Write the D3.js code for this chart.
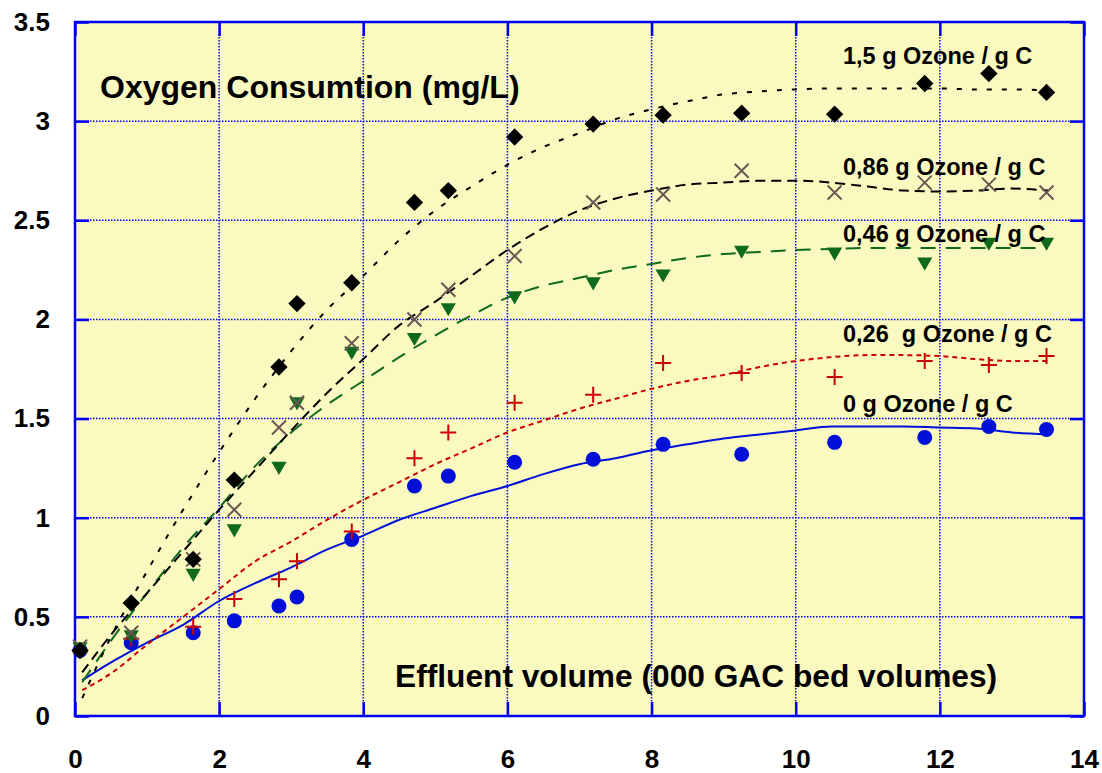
<!DOCTYPE html>
<html>
<head>
<meta charset="utf-8">
<script src="https://cdn.jsdelivr.net/npm/d3@7"></script>
<style>
  body { margin: 0; background: #fff; }
  text { font-family: "Liberation Sans", Arial, sans-serif; font-weight: bold; }
</style>
</head>
<body>
<script>
// measured points, x in thousands of GAC bed volumes
var volumes = [0.07, 0.78, 1.64, 2.21, 2.83, 3.08, 3.84, 4.71, 5.18, 6.1, 7.19, 8.16, 9.25, 10.54, 11.79, 12.68, 13.48];
var ozone0   = [0.33, 0.37, 0.42, 0.48, 0.555, 0.60, 0.89, 1.16, 1.21, 1.28, 1.295, 1.37, 1.32, 1.38, 1.405, 1.46, 1.445];
var ozone026 = [0.33, 0.39, 0.45, 0.59, 0.69, 0.78, 0.93, 1.30, 1.43, 1.58, 1.62, 1.78, 1.73, 1.71, 1.79, 1.77, 1.815];
var ozone046 = [0.35, 0.41, 0.72, 0.945, 1.26, 1.585, 1.84, 1.91, 2.06, 2.12, 2.19, 2.23, 2.35, 2.34, 2.29, 2.39, 2.39];
var ozone086 = [0.35, 0.42, 0.79, 1.04, 1.455, 1.58, 1.88, 2.00, 2.15, 2.32, 2.59, 2.63, 2.75, 2.64, 2.69, 2.68, 2.64];
var ozone15  = [0.33, 0.57, 0.79, 1.19, 1.76, 2.08, 2.185, 2.59, 2.65, 2.92, 2.985, 3.03, 3.04, 3.035, 3.19, 3.24, 3.145];

// fitted curves
var fitX = [0.1, 0.5, 1, 1.5, 2, 2.5, 3, 3.5, 4, 4.5, 5, 5.5, 6, 6.5, 7, 7.5, 8, 8.5, 9, 9.5, 10, 10.5, 11, 11.5, 12, 12.5, 13, 13.5];
var fit0   = [0.18, 0.27, 0.37, 0.46, 0.58, 0.67, 0.75, 0.84, 0.91, 0.99, 1.05, 1.11, 1.16, 1.22, 1.27, 1.30, 1.34, 1.37, 1.40, 1.42, 1.44, 1.46, 1.46, 1.46, 1.455, 1.45, 1.43, 1.42];
var fit026 = [0.13, 0.215, 0.36, 0.50, 0.64, 0.78, 0.88, 0.99, 1.09, 1.18, 1.27, 1.35, 1.43, 1.49, 1.55, 1.60, 1.65, 1.69, 1.72, 1.76, 1.79, 1.81, 1.82, 1.82, 1.815, 1.80, 1.79, 1.79];
var fit046 = [0.17, 0.38, 0.62, 0.85, 1.05, 1.26, 1.43, 1.57, 1.69, 1.81, 1.92, 2.02, 2.11, 2.17, 2.21, 2.25, 2.28, 2.31, 2.33, 2.34, 2.35, 2.355, 2.36, 2.36, 2.36, 2.36, 2.36, 2.36];
var fit086 = [0.22, 0.41, 0.62, 0.83, 1.04, 1.24, 1.44, 1.63, 1.80, 1.97, 2.09, 2.22, 2.35, 2.46, 2.55, 2.61, 2.65, 2.68, 2.69, 2.70, 2.70, 2.69, 2.67, 2.65, 2.645, 2.65, 2.66, 2.65];
var fit15  = [0.09, 0.40, 0.73, 1.04, 1.33, 1.60, 1.84, 2.05, 2.22, 2.40, 2.55, 2.67, 2.78, 2.87, 2.94, 3.01, 3.06, 3.10, 3.135, 3.15, 3.16, 3.165, 3.165, 3.165, 3.165, 3.16, 3.16, 3.155];

var xTicks = [0, 2, 4, 6, 8, 10, 12, 14];
var yTicks = [0, 0.5, 1, 1.5, 2, 2.5, 3, 3.5];
var seriesLabels = ["0 g Ozone / g C", "0,26  g Ozone / g C", "0,46 g Ozone / g C", "0,86 g Ozone / g C", "1,5 g Ozone / g C"];

var W = 1102, H = 773;
var plotL = 75, plotR = 1084, plotT = 22, plotB = 716;

var svg = d3.select("body").append("svg").attr("width", W).attr("height", H);

var x = d3.scaleLinear().domain([0, 14]).range([plotL, plotR]);
var y = d3.scaleLinear().domain([0, 3.5]).range([plotB, plotT]);

// plot background
svg.append("rect")
  .attr("x", plotL).attr("y", plotT)
  .attr("width", plotR - plotL).attr("height", plotB - plotT)
  .style("fill", "#fafac0");

// dotted grid
svg.append("g").selectAll("line").data(xTicks.slice(1, -1)).join("line")
  .attr("x1", d => x(d)).attr("x2", d => x(d))
  .attr("y1", plotT).attr("y2", plotB)
  .attr("stroke", "#0000ee").attr("stroke-width", 1.5).attr("stroke-dasharray", "1.5,1.5");
svg.append("g").selectAll("line").data(yTicks.slice(1, -1)).join("line")
  .attr("y1", d => y(d)).attr("y2", d => y(d))
  .attr("x1", plotL).attr("x2", plotR)
  .attr("stroke", "#0000ee").attr("stroke-width", 1.5).attr("stroke-dasharray", "1.5,1.5");

// axes with inward ticks
function styleAxis(g) {
  g.select(".domain").remove();
  g.selectAll(".tick line").attr("stroke", "#0000ee").attr("stroke-width", 2.5);
  g.selectAll(".tick text").style("font-size", "26px").attr("fill", "#000");
}
svg.append("g").attr("transform", "translate(0," + plotB + ")")
  .call(d3.axisBottom(x).tickValues(xTicks).tickSize(-14).tickPadding(34).tickFormat(d3.format("d")))
  .call(styleAxis);
svg.append("g").attr("transform", "translate(" + plotL + ",0)")
  .call(d3.axisLeft(y).tickValues(yTicks).tickSize(-14).tickPadding(25).tickFormat(d => d))
  .call(styleAxis);
svg.append("g").attr("transform", "translate(0," + plotT + ")")
  .call(d3.axisTop(x).tickValues(xTicks).tickSize(-14).tickFormat(""))
  .call(styleAxis);
svg.append("g").attr("transform", "translate(" + plotR + ",0)")
  .call(d3.axisRight(y).tickValues(yTicks).tickSize(-14).tickFormat(""))
  .call(styleAxis);

// frame
svg.append("rect")
  .attr("x", plotL).attr("y", plotT)
  .attr("width", plotR - plotL).attr("height", plotB - plotT)
  .style("fill", "none").attr("stroke", "#0000ee").attr("stroke-width", 2.5);

// fitted lines
var line = d3.line().x(d => x(d[0])).y(d => y(d[1])).curve(d3.curveMonotoneX);
var fits = [
  { v: fit0,   color: "#0010d8", dash: null },
  { v: fit026, color: "#cc0000", dash: "5,4" },
  { v: fit046, color: "#0f6a1c", dash: "15,10" },
  { v: fit086, color: "#000000", dash: "10,6" },
  { v: fit15,  color: "#000000", dash: "5,10" }
];
fits.forEach(function(f) {
  svg.append("path")
    .attr("d", line(fitX.map((d, i) => [d, f.v[i]])))
    .attr("fill", "none")
    .attr("stroke", f.color)
    .attr("stroke-width", 2)
    .attr("stroke-dasharray", f.dash);
});

// markers
function pts(vals) { return volumes.map((d, i) => [d, vals[i]]); }

svg.append("g").selectAll("circle").data(pts(ozone0)).join("circle")
  .attr("cx", d => x(d[0])).attr("cy", d => y(d[1])).attr("r", 7.5)
  .style("fill", "#0010d8");

svg.append("g").selectAll("path").data(pts(ozone026)).join("path")
  .attr("transform", d => "translate(" + x(d[0]) + "," + y(d[1]) + ")")
  .attr("d", "M-8,0H8M0,-8V8")
  .attr("stroke", "#cc0000").attr("stroke-width", 2);

svg.append("g").selectAll("path").data(pts(ozone046)).join("path")
  .attr("transform", d => "translate(" + x(d[0]) + "," + y(d[1]) + ") rotate(180)")
  .attr("d", d3.symbol(d3.symbolTriangle, 100))
  .style("fill", "#0f6a1c");

svg.append("g").selectAll("path").data(pts(ozone086)).join("path")
  .attr("transform", d => "translate(" + x(d[0]) + "," + y(d[1]) + ")")
  .attr("d", "M-7,-7L7,7M-7,7L7,-7")
  .attr("stroke", "#6b5752").attr("stroke-width", 2);

svg.append("g").selectAll("path").data(pts(ozone15)).join("path")
  .attr("transform", d => "translate(" + x(d[0]) + "," + y(d[1]) + ") rotate(45)")
  .attr("d", d3.symbol(d3.symbolSquare, 150))
  .style("fill", "#000");

// series labels
var labelY = [412, 342, 242, 175, 64];
svg.append("g").selectAll("text").data(seriesLabels).join("text")
  .attr("x", 843).attr("y", (d, i) => labelY[i])
  .style("font-size", "23.5px")
  .style("white-space", "pre")
  .attr("xml:space", "preserve")
  .text(d => d);

// axis titles inside plot
svg.append("text").attr("x", 100).attr("y", 98)
  .style("font-size", "32px").text("Oxygen Consumtion (mg/L)");
svg.append("text").attr("x", 395).attr("y", 687)
  .style("font-size", "31.7px").text("Effluent volume (000 GAC bed volumes)");
</script>
</body>
</html>
